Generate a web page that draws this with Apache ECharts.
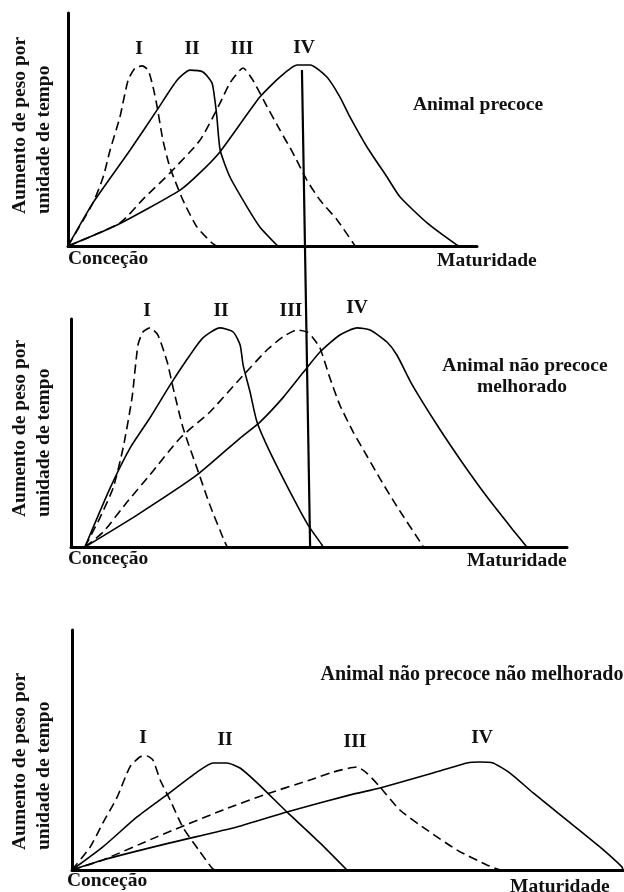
<!DOCTYPE html>
<html>
<head>
<meta charset="utf-8">
<script src="https://cdn.jsdelivr.net/npm/echarts@6/dist/echarts.min.js"></script>
<style>html,body{margin:0;padding:0;background:#fff}#c{width:624px;height:892px}</style>
</head>
<body>
<div id="c"></div>
<script>
// ---- data (x: 0..100 along time axis, y: 0..100 gain) ----
const phaseNames = ["I", "II", "III", "IV"];
const panelTitles = [["Animal precoce"], ["Animal não precoce", "melhorado"], ["Animal não precoce não melhorado"]];
const yAxisTitle = ["Aumento de peso por", "unidade de tempo"];
const xStartLabel = "Conceção";
const xEndLabel = "Maturidade";

// Panel 1: Animal precoce
const p1_I = [[0,0],[6.1,18.5],[8.6,29.6],[10.3,41.2],[12.7,55.4],[14.7,71.2],[16.4,76.4],[18.1,77.3],[19.6,75.5],[20.8,68.2],[21.8,59.7],[23.2,45.5],[24.9,33.9],[28.1,19.7],[31.5,8.2],[35.2,1.3],[36.4,0]];
const p1_II = [[0,0],[6.1,18.5],[15.2,41.2],[21.8,58.4],[26.7,71.2],[29.8,75.5],[33,74.7],[35.2,70],[35.9,62.7],[36.4,55.4],[37.2,41.2],[39.6,29.6],[43.8,16.7],[46.9,8.2],[51.3,0]];
const p1_III = [[0,0],[12.7,9.9],[18.3,20],[24.9,31.3],[32.3,45.5],[37.2,61.4],[39.6,70],[42.8,76.4],[45.2,71.2],[48.7,59.7],[51.8,49.8],[55,39.9],[58.4,28.3],[61.6,19.7],[65.8,11.2],[69.7,1.3],[70.2,0]];
const p1_IV = [[0,0],[12,9],[27.4,24],[32.3,31.5],[37.2,40.5],[46.9,63.9],[51.8,72.5],[56,77.7],[59.2,77.7],[63.3,72.5],[66.5,63.9],[68.9,55.5],[73.1,42.5],[78,29.6],[81.2,21],[87.8,9.9],[95.1,0.4],[95.8,0]];
// vertical reference line from the peak of IV (panel 1) down to the axis of panel 2
const p1_vertical = [[57.2,75.5],[59.2,-129.2]];

// Panel 2: Animal não precoce melhorado
const p2_I = [[2.8,0],[5.8,12.7],[8.5,25.9],[10.5,43.4],[12.3,65.4],[13.5,88.6],[14.5,94.3],[15.9,96.1],[17.5,93],[19.4,81.1],[20.6,69.7],[22.6,52.2],[25.4,34.6],[28,18.4],[31,2.2],[31.5,0]];
const p2_II = [[2.8,0],[7.9,25.9],[11.9,43.4],[15.9,56.6],[20,71.1],[24,84.2],[26.6,91.7],[30,96.1],[32.7,94.3],[34.1,88.6],[34.7,79.8],[36.1,68],[37.5,54.8],[40.1,41.7],[44.8,21.5],[47.8,9.6],[50.6,0.9],[50.8,0]];
const p2_III = [[2.8,0],[6.5,6.6],[11.3,19.7],[15.9,31.6],[22,47.8],[28,59.2],[33.5,72.4],[39.5,86.4],[42.7,92.1],[45.6,95.2],[47.6,94.3],[48.8,91.7],[50.2,87.3],[52.2,74.1],[54.2,62.3],[56.9,50.4],[59.7,39.8],[62.3,30],[65.7,17.8],[70.8,0.9],[71,0]];
const p2_IV = [[2.8,0],[13.3,14],[25.4,31.6],[34.1,47.8],[38.1,54.8],[42.7,65.4],[46.8,76.5],[50.2,85.5],[54.2,93],[57.7,96.1],[60.3,95.2],[63.7,89.9],[65.7,84.2],[68.8,71.1],[73.8,53.5],[78.8,37.3],[83.9,21.9],[89.1,7.5],[91.9,0]];

// Panel 3: Animal não precoce não melhorado
const p3_I = [[0,0],[3.3,9.6],[5.6,19.6],[8.2,30.4],[10.5,42.9],[12.3,47.1],[13.6,47.5],[14.7,45.8],[16,37.5],[17.8,29.2],[20.1,17.9],[23,8.3],[25.4,0.8],[25.9,0]];
const p3_II = [[0,0],[5.6,9.6],[11.8,22.1],[17.2,31.3],[22.7,40.8],[25.6,44.6],[28.1,44.6],[30.5,42.5],[33.6,36.3],[39,24.2],[45,11.3],[49.9,0]];
const p3_III = [[0,0],[5.6,4.2],[15.4,13.8],[27.4,25],[35.9,32.1],[43.2,37.5],[47.4,40.8],[51.7,42.9],[53.5,40.4],[55.9,34.6],[59.5,25],[64.4,16.7],[69.9,8.3],[75.3,2.1],[77.7,0]];
const p3_IV = [[0,0],[5.6,4.2],[17.8,11.3],[29.9,17.9],[39,24.2],[50.5,31.3],[55.9,34.2],[65.5,40.4],[71.7,44.6],[74,45],[76.4,44.6],[79.5,40.4],[83.7,32.1],[89.8,20.8],[95.8,9.6],[99.8,1.3],[100,0]];

// ---- chart ----
const chart = echarts.init(document.getElementById('c'), null, {renderer: 'canvas'});
const FONT = '"Liberation Serif", "Times New Roman", serif';
const TXT = '#111';

const grids = [
  {left: 68, top: 13, width: 409, height: 233},
  {left: 71, top: 319, width: 496, height: 228},
  {left: 72, top: 630, width: 551, height: 240}
];
const axisLine = {show: true, lineStyle: {color: '#000', width: 3}};
const xAxes = grids.map((g, i) => ({gridIndex: i, type: 'value', min: 0, max: 100, axisLine: axisLine, axisTick: {show: false}, axisLabel: {show: false}, splitLine: {show: false}}));
const yAxes = grids.map((g, i) => ({gridIndex: i, type: 'value', min: 0, max: 100, axisLine: axisLine, axisTick: {show: false}, axisLabel: {show: false}, splitLine: {show: false}}));

function curve(data, idx, dashed) {
  return {type: 'line', xAxisIndex: idx, yAxisIndex: idx, data: data, showSymbol: false, symbol: 'none', smooth: 0.2,
    lineStyle: {color: '#000', width: 1.6, type: dashed ? [9, 5] : 'solid'}, silent: true, animation: false};
}
const series = [
  curve(p1_I, 0, true), curve(p1_II, 0, false), curve(p1_III, 0, true), curve(p1_IV, 0, false),
  curve(p2_I, 1, true), curve(p2_II, 1, false), curve(p2_III, 1, true), curve(p2_IV, 1, false),
  curve(p3_I, 2, true), curve(p3_II, 2, false), curve(p3_III, 2, true), curve(p3_IV, 2, false),
  {type: 'line', xAxisIndex: 0, yAxisIndex: 0, data: p1_vertical, showSymbol: false, symbol: 'none', clip: false,
   lineStyle: {color: '#000', width: 2.2}, silent: true, animation: false}
];

function txt(x, y, s, size, align, vAlign, rot) {
  const el = {type: 'text', x: x, y: y, silent: true,
    style: {text: s, fill: TXT, font: 'bold ' + size + 'px ' + FONT, align: align || 'center', verticalAlign: vAlign || 'middle'}};
  if (rot) el.rotation = rot;
  return el;
}
const FS = 19.5;
const graphics = [];
// phase labels
const labelPos = [
  [[139,49],[192,49],[242,49],[304,48]],
  [[147,311],[221,311],[291,311],[357,308]],
  [[143,738],[225,740],[355,742],[482,738]]
];
labelPos.forEach(panel => panel.forEach((p, j) => graphics.push(txt(p[0], p[1], phaseNames[j], FS))));
// titles
graphics.push(txt(478, 105, panelTitles[0][0], FS));
graphics.push(txt(525, 366, panelTitles[1][0], FS));
graphics.push(txt(522, 387, panelTitles[1][1], FS));
graphics.push(txt(472, 675, panelTitles[2][0], 20));
// x-axis end labels
[[68,259],[68,559],[67,881]].forEach(p => graphics.push(txt(p[0], p[1], xStartLabel, FS, 'left')));
[[437,261],[467,561],[510,887]].forEach(p => graphics.push(txt(p[0], p[1], xEndLabel, FS, 'left')));
// y-axis titles (rotated)
[214, 517, 850].forEach(yb => {
  graphics.push(txt(20, yb, yAxisTitle[0], FS, 'left', 'middle', Math.PI / 2));
  graphics.push(txt(44, yb, yAxisTitle[1], FS, 'left', 'middle', Math.PI / 2));
});

chart.setOption({
  animation: false,
  backgroundColor: '#fff',
  grid: grids,
  xAxis: xAxes,
  yAxis: yAxes,
  series: series,
  graphic: graphics
});
</script>
</body>
</html>
